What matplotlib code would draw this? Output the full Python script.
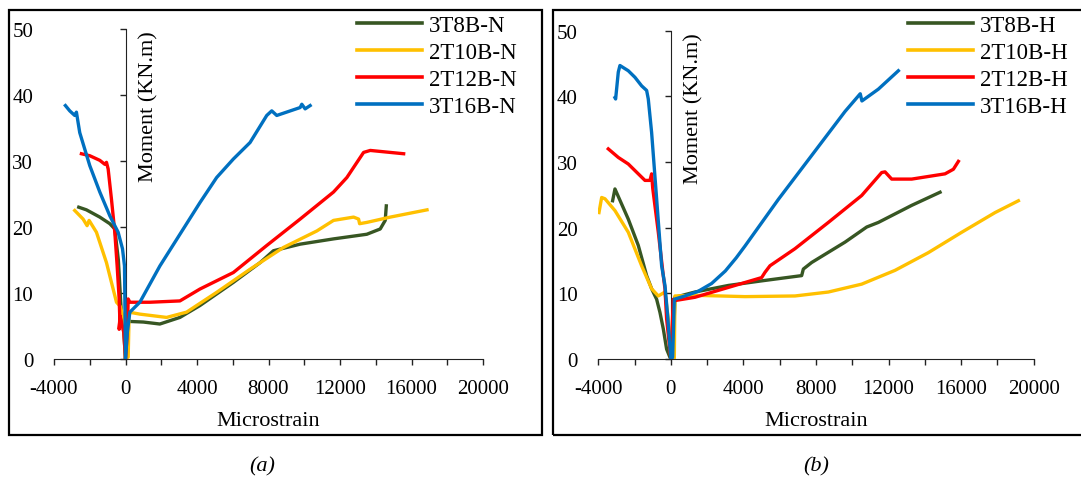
import matplotlib
matplotlib.use("Agg")
import matplotlib.pyplot as plt
from matplotlib.patches import Rectangle
from matplotlib.lines import Line2D

plt.rcParams["font.family"] = ["Liberation Serif", "DejaVu Serif"]
plt.rcParams["axes.unicode_minus"] = False

# Panel (a) - N series
a_labels = ["3T8B-N", "2T10B-N", "2T12B-N", "3T16B-N"]
a_green_x = [-2615, -2186, -1438, -878, -598, -400, -224, -93, 0, 56, 150, 1000, 1920, 3045, 4165,
             6030, 7530, 8275, 9770, 11640, 13500, 14250, 14530, 14590]
a_green_y = [23.0, 22.6, 21.5, 20.5, 19.7, 15.0, 6.6, 4.0, 0, 3.0, 5.7, 5.6, 5.3, 6.3, 8.1,
             11.6, 14.6, 16.4, 17.4, 18.2, 18.9, 19.7, 21.0, 23.2]
a_yellow_x = [-2840, -2372, -2148, -2036, -1625, -1065, -785, -504, -300, -93, 0, 150, 205, 803,
              2298, 3418, 5100, 6968, 8836, 10704, 11638, 12759, 13040, 13096, 13506, 14813, 16868]
a_yellow_y = [22.5, 21.2, 20.2, 21.0, 19.2, 14.6, 11.6, 8.6, 8.0, 6.1, 0, 0.3, 7.1, 6.8,
              6.3, 7.1, 10.1, 13.6, 16.9, 19.4, 21.0, 21.5, 21.2, 20.5, 20.7, 21.5, 22.6]
a_red_x = [-2466, -1999, -1438, -1158, -1065, -971, -785, -598, -467, -355, -318, -355, -300, -93,
           0, 100, 150, 243, 1364, 3045, 4165, 6033, 7902, 9770, 11638, 12385, 13319, 13693, 15561]
a_red_y = [31.1, 30.8, 30.1, 29.5, 29.8, 28.8, 24.2, 19.2, 14.1, 9.1, 6.1, 4.5, 6.5, 4.0,
           0, 4.0, 9.1, 8.6, 8.6, 8.8, 10.6, 13.1, 17.2, 21.2, 25.3, 27.5, 31.3, 31.6, 31.1]
a_blue_x = [-3362, -3120, -2840, -2746, -2560, -1999, -1438, -878, -411, -168, -56, 0, 100, 243,
            803, 1924, 3232, 4166, 5100, 6034, 6968, 7902, 8182, 8462, 9770, 9863, 10050, 10330]
a_blue_y = [38.4, 37.6, 36.9, 37.4, 34.3, 29.3, 25.3, 21.7, 19.2, 16.7, 14.1, 0, 4.0, 7.1,
            8.6, 14.1, 19.7, 23.7, 27.5, 30.3, 32.8, 36.9, 37.6, 36.9, 38.1, 38.6, 37.9, 38.4]

# Panel (b) - H series
b_labels = ["3T8B-H", "2T10B-H", "2T12B-H", "3T16B-H"]
b_green_x = [-3211, -3082, -2347, -1796, -1336, -1061, -785, -602, -418, -234, -50, 0, 150, 224,
             1328, 3166, 5004, 7210, 7302, 7762, 9600, 10795, 11438, 13276, 14838]
b_green_y = [24.1, 25.9, 21.3, 17.3, 12.7, 10.7, 9.1, 7.1, 4.6, 1.5, 0.25, 0, 3.0, 9.4,
             10.2, 11.2, 11.9, 12.7, 13.7, 14.7, 17.8, 20.1, 20.8, 23.4, 25.4]
b_yellow_x = [-3962, -3815, -3631, -3082, -2347, -1612, -1061, -693, -325, -142, 0, 190, 224, 1328,
              4085, 6842, 8680, 10518, 12356, 14194, 16032, 17870, 19157]
b_yellow_y = [22.3, 24.6, 24.4, 22.6, 19.3, 14.2, 10.7, 9.6, 10.2, 6.1, 0, 0.1, 9.6, 9.7,
              9.5, 9.6, 10.2, 11.4, 13.5, 16.2, 19.3, 22.3, 24.1]
b_red_x = [-3450, -2898, -2347, -1796, -1428, -1152, -1061, -1000, -693, -418, -325, -234, 0, 134,
           224, 1328, 3166, 5004, 5188, 5463, 6842, 8680, 10518, 11621, 11805, 12172, 13276, 15114,
           15573, 15849]
b_red_y = [32.0, 30.7, 29.7, 28.2, 27.2, 27.2, 28.2, 26.0, 19.3, 12.7, 10.7, 6.1, 0, 9.1,
           8.9, 9.4, 10.9, 12.4, 13.2, 14.2, 16.8, 20.8, 24.9, 28.4, 28.5, 27.4, 27.4, 28.2,
           28.9, 30.1]
b_blue_x = [-3082, -3045, -2898, -2807, -2347, -1980, -1612, -1336, -1245, -1061, -785, -509, -325,
            -178, 0, 97, 190, 776, 1500, 2246, 3000, 3600, 4085, 5923, 7762, 9600, 10439, 10531,
            11438, 12540]
b_blue_y = [39.8, 39.6, 43.7, 44.7, 43.9, 42.9, 41.6, 40.9, 39.6, 34.5, 24.4, 14.2, 11.2,
            6.6, 0, 0.25, 9.1, 9.6, 10.3, 11.5, 13.4, 15.4, 17.2, 24.3, 31.0, 37.7, 40.4, 39.3,
            41.1, 43.9]

x_major = [-4000, 0, 4000, 8000, 12000, 16000, 20000]
x_minor = [-2000, 2000, 6000, 10000, 14000, 18000]
y_ticks = [0, 10, 20, 30, 40, 50]
colors = ["#375623", "#FFC000", "#FF0000", "#0070C0"]

W, H = 1081, 485
fig = plt.figure(figsize=(W / 100, H / 100), dpi=100)


def fx(px):
    return px / W


def fy(py):
    return 1 - py / H


def panel(rect, series, labels, leg_x, caption, cap_x):
    left, top, right, bottom = rect
    ax = fig.add_axes([fx(left), fy(bottom), fx(right - left), fy(top) - fy(bottom)])
    for (xs, ys), c in zip(series, colors):
        ax.plot(xs, ys, color=c, lw=2.4, solid_joinstyle="round")
    ax.set_xlim(-4000, 20000)
    ax.set_ylim(0, 50)
    for s in ["top", "right", "left"]:
        ax.spines[s].set_visible(False)
    ax.spines["bottom"].set_color("#222222")
    ax.set_xticks(x_major)
    ax.set_xticks(x_minor, minor=True)
    ax.tick_params(axis="x", which="both", direction="out", length=4, width=1,
                   color="#222222", labelsize=15, pad=10.5)
    ax.set_yticks(y_ticks)
    ax.tick_params(axis="y", length=0, labelsize=15, pad=15)
    ax.set_xlabel("Microstrain", fontsize=16, labelpad=9)

    # vertical axis line through x = 0
    sec = ax.secondary_yaxis(4000 / 24000)
    sec.set_yticks(y_ticks)
    sec.tick_params(direction="out", length=4, width=1, color="#222222", labelleft=False,
                    labelright=False)
    sec.spines["left"].set_color("#222222")

    ax.text(0.22, 0.995, "Moment (KN.m)", transform=ax.transAxes, rotation=90,
            ha="center", va="top", fontsize=16)

    handles = [Line2D([], [], color=c, lw=2.6) for c in colors]
    fig.legend(handles, labels, loc="upper left", bbox_to_anchor=(fx(leg_x), fy(16)),
               bbox_transform=fig.transFigure, frameon=False, fontsize=16.5, borderpad=0,
               borderaxespad=0, handlelength=2.85, handletextpad=0.3, labelspacing=0.26)

    fig.text(fx(cap_x), fy(467), caption, ha="center", va="center", fontsize=16,
             style="italic")


panel((54, 30, 483, 360),
      [(a_green_x, a_green_y), (a_yellow_x, a_yellow_y), (a_red_x, a_red_y), (a_blue_x, a_blue_y)],
      a_labels, 357, "(a)", 262)
panel((598.3, 31.7, 1033.7, 360),
      [(b_green_x, b_green_y), (b_yellow_x, b_yellow_y), (b_red_x, b_red_y), (b_blue_x, b_blue_y)],
      b_labels, 908, "(b)", 816)

# panel frames
fig.add_artist(Rectangle((fx(9), fy(436)), fx(542 - 9), fy(11) - fy(436),
                         transform=fig.transFigure, fill=False, lw=1.6, ec="black"))
fig.add_artist(Rectangle((fx(553), fy(436)), fx(1090 - 553), fy(11) - fy(436),
                         transform=fig.transFigure, fill=False, lw=1.6, ec="black"))

fig.savefig("out.png", dpi=100)
